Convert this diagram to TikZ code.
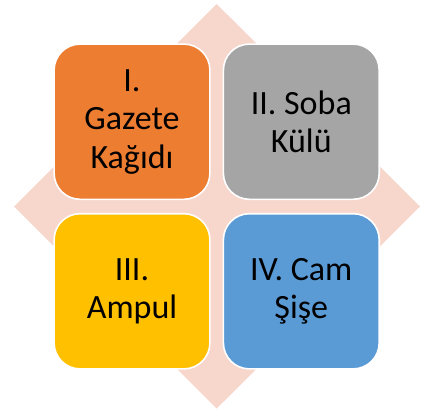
\documentclass[tikz,border=0pt]{standalone}
\usepackage{fontspec}
\setmainfont{Carlito}
\definecolor{bgpink}{HTML}{F7D6CC}
\definecolor{qorange}{HTML}{ED7D31}
\definecolor{qgray}{HTML}{A5A5A5}
\definecolor{qyellow}{HTML}{FFC000}
\definecolor{qblue}{HTML}{5B9BD5}
\tikzset{
  quad/.style={draw=white, line width=1.6pt, rounded corners=26pt,
    minimum width=155.8pt, minimum height=155.2pt, inner sep=0pt,
    align=center, text=black, font=\fontsize{34}{38.5}\selectfont}
}
\begin{document}
\begin{tikzpicture}[x=1pt,y=-1pt]
\useasboundingbox (0,0) rectangle (425,409);
\fill[bgpink] (216.7,4) -- (420,206.5) -- (216.7,408.5) -- (14,206.5) -- cycle;
\node[quad, fill=qorange] (q1) at (132,121.7) {I.\\Gazete\\Kağıdı};
\node[quad, fill=qgray] (q2) at (301.3,121.7) {II. Soba\\Külü};
\node[quad, fill=qyellow] (q3) at (132,291.3) {III.\\Ampul};
\node[quad, fill=qblue] (q4) at (301.3,291.3) {IV. Cam\\Şişe};
\end{tikzpicture}
\end{document}
